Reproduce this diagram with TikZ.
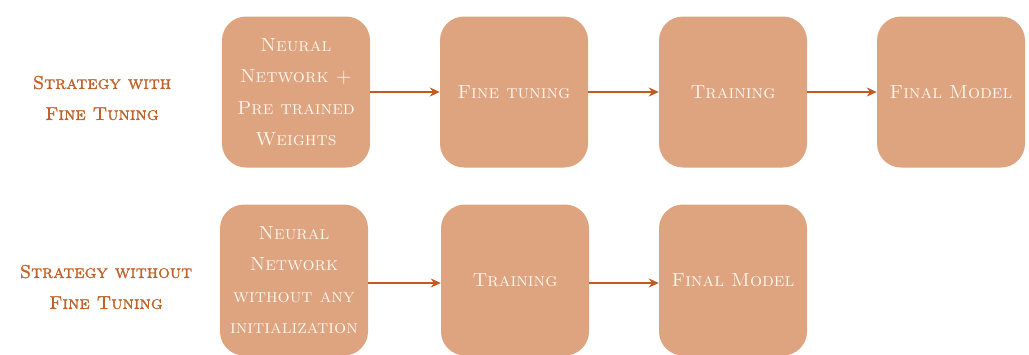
\documentclass[tikz,border=0pt]{standalone}
\usepackage{fontspec}
\usepackage{tikz}
\usetikzlibrary{arrows.meta,positioning}

\newfontfamily\labelfont{lmromancaps10-regular.otf}[FakeBold=1.4]

\definecolor{boxfill}{HTML}{DDA47F}
\definecolor{labeltext}{HTML}{C0622A}
\definecolor{arrowcol}{HTML}{C25A22}
\definecolor{boxtext}{HTML}{FFF6EE}

\tikzset{
	stage/.style={rectangle, rounded corners=24pt, fill=boxfill, text=boxtext,
		minimum width=148pt, minimum height=151pt, align=center,
		font=\fontsize{19}{31.5}\selectfont\scshape},
	strategy/.style={text=labeltext, align=center,
		font=\labelfont\fontsize{18.5}{31}\selectfont},
	flow/.style={-{Stealth[length=10pt, width=9pt]}, line width=2.4pt, draw=arrowcol}
}

\begin{document}
\begin{tikzpicture}[x=1pt, y=-1pt]
	\useasboundingbox (0, 0) rectangle (1029, 354);
	% strategy with fine tuning
	\node [strategy]	(LabelWith)		at (102, 98)	{Strategy with\\Fine Tuning};
	\node [stage]		(NetPre)		at (296, 92)	{Neural\\Network +\\Pre trained\\Weights};
	\node [stage]		(FineTune)		at (514, 92)	{Fine tuning};
	\node [stage]		(TrainA)		at (733, 92)	{Training};
	\node [stage]		(FinalA)		at (951, 92)	{Final Model};
	% strategy without fine tuning
	\node [strategy]	(LabelWithout)	at (106, 287)	{Strategy without\\Fine Tuning};
	\node [stage]		(NetRaw)		at (294, 280)	{Neural\\Network\\without any\\initialization};
	\node [stage]		(TrainB)		at (515, 280)	{Training};
	\node [stage]		(FinalB)		at (733, 280)	{Final Model};

	\draw [flow] (NetPre) -- (FineTune);
	\draw [flow] (FineTune) -- (TrainA);
	\draw [flow] (TrainA) -- (FinalA);
	\draw [flow] (NetRaw.east |- 0, 283) -- (TrainB.west |- 0, 283);
	\draw [flow] (TrainB.east |- 0, 283) -- (FinalB.west |- 0, 283);
\end{tikzpicture}
\end{document}
